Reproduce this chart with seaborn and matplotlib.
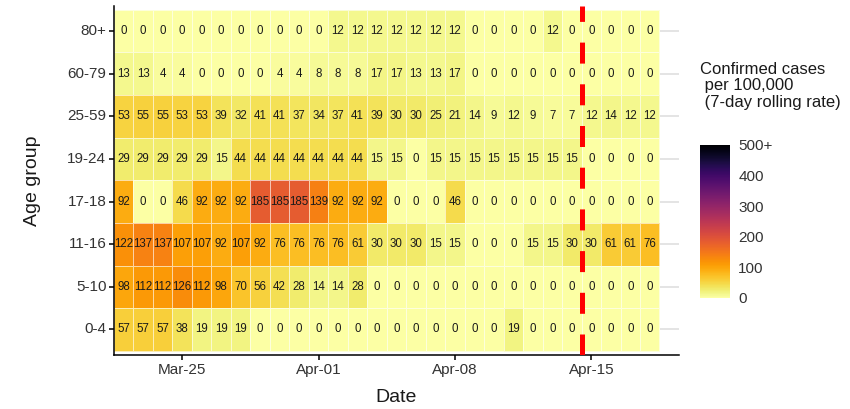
import matplotlib

matplotlib.use("Agg")
import matplotlib.pyplot as plt
import numpy as np
import pandas as pd
import seaborn as sns

# Age groups, from top row to bottom row
age_groups = ["80+", "60-79", "25-59", "19-24", "17-18", "11-16", "5-10", "0-4"]

# One column per day
dates = pd.date_range("2020-03-22", "2020-04-18", freq="D")

# Confirmed cases per 100,000 (7-day rolling rate), one list per age group
rate_80_plus = [0, 0, 0, 0, 0, 0, 0, 0, 0, 0, 0, 12, 12, 12, 12, 12, 12, 12, 0, 0, 0, 0, 12, 0, 0, 0, 0, 0]
rate_60_79 = [13, 13, 4, 4, 0, 0, 0, 0, 4, 4, 8, 8, 8, 17, 17, 13, 13, 17, 0, 0, 0, 0, 0, 0, 0, 0, 0, 0]
rate_25_59 = [53, 55, 55, 53, 53, 39, 32, 41, 41, 37, 34, 37, 41, 39, 30, 30, 25, 21, 14, 9, 12, 9, 7, 7, 12, 14, 12, 12]
rate_19_24 = [29, 29, 29, 29, 29, 15, 44, 44, 44, 44, 44, 44, 44, 15, 15, 0, 15, 15, 15, 15, 15, 15, 15, 15, 0, 0, 0, 0]
rate_17_18 = [92, 0, 0, 46, 92, 92, 92, 185, 185, 185, 139, 92, 92, 92, 0, 0, 0, 46, 0, 0, 0, 0, 0, 0, 0, 0, 0, 0]
rate_11_16 = [122, 137, 137, 107, 107, 92, 107, 92, 76, 76, 76, 76, 61, 30, 30, 30, 15, 15, 0, 0, 0, 15, 15, 30, 30, 61, 61, 76]
rate_5_10 = [98, 112, 112, 126, 112, 98, 70, 56, 42, 28, 14, 14, 28, 0, 0, 0, 0, 0, 0, 0, 0, 0, 0, 0, 0, 0, 0, 0]
rate_0_4 = [57, 57, 57, 38, 19, 19, 19, 0, 0, 0, 0, 0, 0, 0, 0, 0, 0, 0, 0, 0, 19, 0, 0, 0, 0, 0, 0, 0]

# Axis ticks and the dashed marker
tick_labels = ["Mar-25", "Apr-01", "Apr-08", "Apr-15"]
cutoff_label = "Apr-15"
cbar_ticks = [0, 100, 200, 300, 400, 500]
cbar_tick_labels = ["0", "100", "200", "300", "400", "500+"]

sns.set_style("white")
plt.rcParams["font.family"] = ["Liberation Sans", "DejaVu Sans"]

date_labels = list(dates.strftime("%b-%d"))
rates = pd.DataFrame(
    [rate_80_plus, rate_60_79, rate_25_59, rate_19_24, rate_17_18, rate_11_16, rate_5_10, rate_0_4],
    index=age_groups,
    columns=date_labels,
)

fig = plt.figure(figsize=(8.5, 4.09), dpi=100)
ax = fig.add_axes([0.1341, 0.1320, 0.6647, 0.8545])
cax = fig.add_axes([0.8235, 0.2714, 0.0353, 0.3741])

# faint horizontal grid, only visible past the last day
ax.hlines(np.arange(len(age_groups)) + 0.5, 0, 29, color="#DCDCDC", lw=1.1, zorder=0)

sns.heatmap(
    rates,
    ax=ax,
    cbar_ax=cax,
    cmap="inferno_r",
    vmin=0,
    vmax=500,
    annot=True,
    fmt="d",
    annot_kws={"fontsize": 8.3, "color": "#1a1a1a"},
    linewidths=0.5,
    linecolor="#FFFFFFA0",
)

# Dashed marker on the left edge of the cutoff day
ax.axvline(date_labels.index(cutoff_label), color="#FF0000", lw=3.6, dashes=(4.2, 4.14), zorder=5)

ax.set_xlim(0, 29)
ax.set_ylim(len(age_groups) + 0.1, -0.1)

ax.set_xticks([date_labels.index(t) + 0.5 for t in tick_labels])
ax.set_xticklabels(tick_labels, rotation=0)
ax.set_yticks(np.arange(len(age_groups)) + 0.5)
ax.set_yticklabels(age_groups, rotation=0)
ax.tick_params(axis="both", bottom=True, left=True, length=3.5, width=1.1, color="black",
               labelsize=11, labelcolor="#333333", pad=2)

for side in ["left", "bottom"]:
    ax.spines[side].set_visible(True)
    ax.spines[side].set_color("black")
    ax.spines[side].set_linewidth(1.1)

ax.set_xlabel("Date", fontsize=14, color="#1a1a1a", labelpad=9)
ax.set_ylabel("Age group", fontsize=14, color="#1a1a1a", labelpad=19)

# Colour bar with white inner ticks
cax.set_yticks(cbar_ticks)
cax.set_yticklabels(cbar_tick_labels)
cax.tick_params(axis="y", left=True, right=True, labelleft=False, labelright=True,
                direction="in", length=6, width=0.8, color="white", labelsize=11,
                labelcolor="#333333", pad=6)

fig.text(0.8235, 1 - 62 / 409, "Confirmed cases\n per 100,000\n (7-day rolling rate)",
         fontsize=12, color="#1a1a1a", ha="left", va="top", linespacing=1.12)

plt.savefig("out.png", dpi=100)
